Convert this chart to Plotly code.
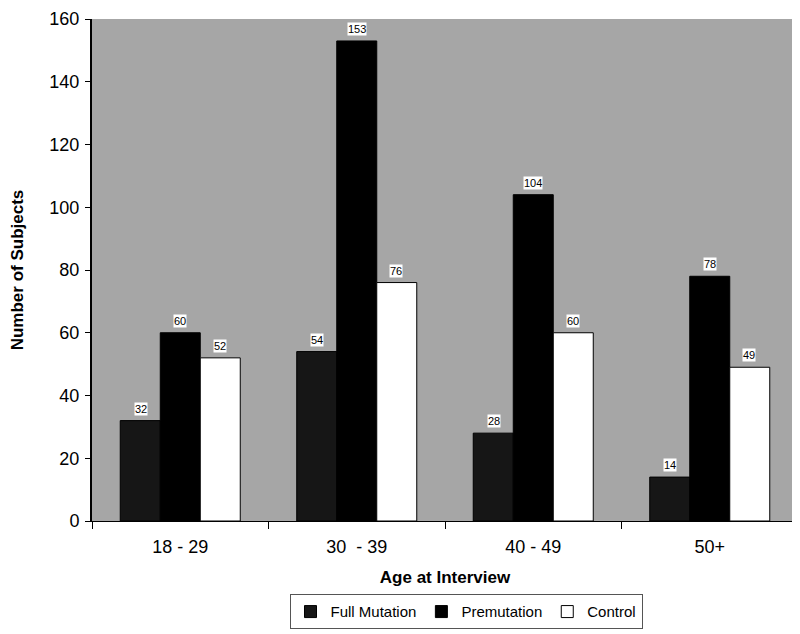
import plotly.graph_objects as go

ages = ["18 - 29", "30  - 39", "40 - 49", "50+"]
full_mutation = [32, 54, 28, 14]
premutation = [60, 153, 104, 78]
control = [52, 76, 60, 49]

series = [
    ("Full Mutation", full_mutation, "#161616"),
    ("Premutation", premutation, "#000000"),
    ("Control", control, "#ffffff"),
]

fig = go.Figure()
for name, vals, col in series:
    fig.add_trace(go.Bar(
        x=ages, y=vals, name=name,
        marker=dict(color=col, line=dict(color="#000000", width=1)),
    ))

# value labels in little white boxes over each bar
bar_px = 39.5
for i, (name, vals, col) in enumerate(series):
    for a, v in zip(ages, vals):
        fig.add_annotation(
            x=a, y=v, text=str(v), showarrow=False,
            xshift=(i - 1) * bar_px, yshift=12,
            bgcolor="#ffffff", borderpad=0,
            font=dict(family="Liberation Sans, Arial", size=11, color="#000000"),
        )

fig.update_layout(
    width=800, height=634,
    margin=dict(l=84, r=10, t=11, b=121),
    paper_bgcolor="#ffffff",
    plot_bgcolor="#a6a6a6",
    barmode="group",
    bargap=0.32,
    bargroupgap=0,
    font=dict(family="Liberation Sans, Arial", size=18, color="#000000"),
    showlegend=True,
    legend=dict(
        orientation="h", xref="container", x=0.5725, xanchor="center",
        yref="container", y=0.02, yanchor="bottom",
        bordercolor="#555555", borderwidth=1,
        font=dict(size=15), itemwidth=30, traceorder="normal",
        tracegroupgap=0,
    ),
    xaxis=dict(
        title=dict(text="<b>Age at Interview</b>", standoff=15, font=dict(size=17)),
        automargin=False,
        showline=True, linecolor="#000000", linewidth=1,
        ticks="outside", tickson="boundaries", ticklen=7, tickcolor="#000000",
        ticklabelstandoff=9,
        showgrid=False,
    ),
    yaxis=dict(
        title=dict(text="<b>Number of Subjects</b>", standoff=34, font=dict(size=17)),
        automargin=False,
        range=[0, 160], dtick=20,
        showline=True, linecolor="#000000", linewidth=2,
        ticks="outside", ticklen=5, tickcolor="#000000",
        ticklabelstandoff=2,
        showgrid=False, zeroline=False,
    ),
)

fig.write_html("out.html")
